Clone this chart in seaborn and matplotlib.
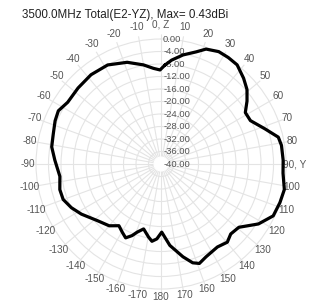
import numpy as np
import pandas as pd
import matplotlib
matplotlib.use("Agg")
import matplotlib.pyplot as plt
import matplotlib.transforms as mtransforms
import seaborn as sns

# Pattern (angle in deg, clockwise from Z; gain in dBi)
angles_deg = [2.3, 5.8, 11.4, 17.4, 21.4, 27.2, 32.3, 37.5, 43.9, 49.1,
              53.8, 58.6, 64.1, 71.3, 77.1, 81.2, 88.2, 94.3, 101.7, 108,
              114.8, 121.6, 129.1, 135.1, 139.7, 145.8, 154.1, 158.9, 162.2, 166.7,
              173.8, 179.4, 183.2, 186.7, 189.7, 195, 199.3, 202, 205.6, 209.6,
              214.3, 220, 228.1, 237.8, 244, 250.1, 255.8, 263, 272.1, 278.9,
              285.7, 292.2, 297.4, 303.5, 312.5, 321.9, 331.7, 341.6, 350, 355.5,
              359.4]
gain_db = [-8.3, -6.6, -4.4, -2.4, -0.5, 0.43, 0.3, 0.0, -1.9, -3.6,
           -5.9, -8.4, -8.2, -4.9, -1.5, -1.0, -0.9, -0.85, 0.3, 0.0,
           -0.45, -3.4, -7.9, -8.4, -7.2, -7.9, -7.0, -5.9, -6.8, -9.5,
           -13.8, -18.2, -16.0, -15.1, -16.3, -18.5, -16.9, -15.3, -13.8, -14.9,
           -16.1, -14.2, -12.8, -9.9, -8.1, -6.7, -6.6, -7.4, -6.0, -4.6,
           -4.2, -3.4, -3.0, -4.2, -4.0, -3.7, -4.0, -5.7, -7.8, -9.3,
           -9.9]

theta_ticks = list(range(0, 360, 10))
theta_labels = ["0, Z" if d == 0 else "90, Y" if d == 90 else str(d if d <= 180 else d - 360)
                for d in theta_ticks]
r_ticks = list(range(-40, 1, 4))
r_labels = ["%.2f" % v for v in r_ticks]
title = "3500.0MHz Total(E2-YZ), Max= 0.43dBi"

sns.set_style("white")
plt.rcParams['font.family'] = ['Liberation Sans', 'DejaVu Sans']

df = pd.DataFrame({"theta": np.deg2rad(angles_deg + angles_deg[:1]),
                   "gain": gain_db + gain_db[:1]})

fig = plt.figure(figsize=(3.10, 3.05), dpi=100)
ax = fig.add_axes([0.101, 0.037, 0.8368, 0.8505], projection="polar")
ax.set_theta_zero_location("N")
ax.set_theta_direction(-1)
ax.set_ylim(-40, 1.5)

sns.lineplot(data=df, x="theta", y="gain", ax=ax, sort=False, estimator=None,
             color="black", linewidth=2.3, zorder=4)
ax.set_xlabel("")
ax.set_ylabel("")

# grid
ax.set_xticks(np.deg2rad(theta_ticks))
ax.set_xticklabels([])
ax.set_yticks(r_ticks)
ax.set_yticklabels([])
ax.grid(True, color="#e4e4e4", linewidth=0.8)
ax.spines["polar"].set_visible(False)

# angle labels just outside the outer ring (a little farther out at the top)
for d, lab in zip(theta_ticks, theta_labels):
    t = np.deg2rad(d)
    gap = 3.5 + 6 * max(np.cos(t), 0) ** 1.5
    tr = mtransforms.offset_copy(ax.transData, fig=fig, x=gap * np.sin(t) * 0.72,
                                 y=gap * np.cos(t) * 0.72, units="points")
    ax.text(t, 1.5, lab, transform=tr, ha="center", va="center",
            fontsize=7.2, color="#555555", clip_on=False)

# white hole at the centre where spokes start
ring = np.linspace(0, 2 * np.pi, 100)
ax.fill(ring, np.full(100, -37.8), color="white", zorder=2)

# radial labels along the Z axis
off = mtransforms.offset_copy(ax.transData, fig=fig, x=1.5, y=0, units="points")
for v, lab in zip(r_ticks, r_labels):
    ax.text(0, v, lab, transform=off, ha="left", va="center",
            fontsize=6.8, color="#555555", zorder=3)

fig.text(0.07, 0.952, title, fontsize=8.4, color="#222222", ha="left", va="center")

plt.savefig("out.png", dpi=100)
